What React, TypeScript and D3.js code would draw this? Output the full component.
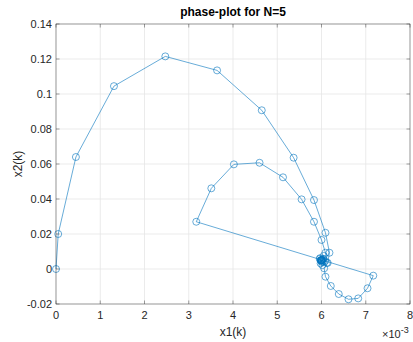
import React from "react";
import * as d3 from "d3";

const x1Values = [
  0, 0.05, 0.45, 1.31, 2.47, 3.64, 4.65, 5.37, 5.83, 6.09, 6.18, 6.14, 6.06, 6.09, 6.21, 6.39, 6.61, 6.83, 7.04, 7.17,
  3.17, 3.51, 4.02, 4.6, 5.13, 5.55, 5.83, 6.0, 6.09, 6.12, 6.02, 5.96, 6.05, 6.08, 5.98, 5.97, 6.04, 6.01, 5.99, 6.02, 6.0, 5.98, 6.01, 6.0, 5.99, 6.0,
];
const x2Values = [
  0, 0.02, 0.064, 0.1045, 0.1215, 0.1135, 0.0907, 0.0636, 0.0394, 0.0207, 0.0093, 0.0035, 0.0004, -0.0044, -0.0097, -0.0143, -0.0173, -0.0168, -0.011, -0.0038,
  0.027, 0.0461, 0.0598, 0.0607, 0.0524, 0.0398, 0.027, 0.0166, 0.0093, 0.0035, 0.0022, 0.0058, 0.0075, 0.0045, 0.0032, 0.0062, 0.0058, 0.004, 0.005, 0.0053, 0.0046, 0.0048, 0.0052, 0.0049, 0.0051, 0.005,
];
const xTicks = [0, 1, 2, 3, 4, 5, 6, 7, 8];
const xTickLabels = ["0", "1", "2", "3", "4", "5", "6", "7", "8"];
const yTicks = [-0.02, 0, 0.02, 0.04, 0.06, 0.08, 0.1, 0.12, 0.14];
const yTickLabels = ["-0.02", "0", "0.02", "0.04", "0.06", "0.08", "0.1", "0.12", "0.14"];

const W = 413;
const H = 342;
const L = 56, R = 410, T = 24, B = 304;
const blue = "#0072BD";
const axisCol = "#262626";
const font = "'Liberation Sans', Arial, sans-serif";

export default function App() {
  const x = d3.scaleLinear().domain([0, 8]).range([L, R]);
  const y = d3.scaleLinear().domain([-0.02, 0.14]).range([B, T]);
  const pts: [number, number][] = x1Values.map((v, i) => [x(v), y(x2Values[i])]);
  const line = d3.line<[number, number]>().x((d) => d[0]).y((d) => d[1]);
  return (
    <svg width={W} height={H} style={{ position: "absolute", left: 0, top: 0, background: "#fff" }} fontFamily={font}>
      <rect x={0} y={0} width={W} height={H} fill="#fff" />
      <rect x={L} y={T} width={R - L} height={B - T} fill="#fff" />
      {xTicks.map((t) => (
        <line key={"gx" + t} x1={x(t)} x2={x(t)} y1={T} y2={B} stroke="#e6e6e6" strokeWidth={0.8} />
      ))}
      {yTicks.map((t) => (
        <line key={"gy" + t} x1={L} x2={R} y1={y(t)} y2={y(t)} stroke="#e6e6e6" strokeWidth={0.8} />
      ))}
      <path d={line(pts) || ""} fill="none" stroke={blue} strokeWidth={0.7} opacity={0.85} />
      {pts.map((p, i) => (
        <circle key={"c" + i} cx={p[0]} cy={p[1]} r={3.5} fill="none" stroke={blue} strokeWidth={0.7} opacity={0.85} />
      ))}
      <rect x={L} y={T} width={R - L} height={B - T} fill="none" stroke={axisCol} strokeWidth={0.6} opacity={0.7} />
      {xTicks.map((t, i) => (
        <g key={"tx" + t}>
          <line x1={x(t)} x2={x(t)} y1={B} y2={B - 3.5} stroke={axisCol} strokeWidth={0.6} opacity={0.7} />
          <line x1={x(t)} x2={x(t)} y1={T} y2={T + 3.5} stroke={axisCol} strokeWidth={0.6} opacity={0.7} />
          <text x={x(t)} y={B + 15} textAnchor="middle" fontSize={11} fill={axisCol}>{xTickLabels[i]}</text>
        </g>
      ))}
      {yTicks.map((t, i) => (
        <g key={"ty" + t}>
          <line x1={L} x2={L + 3.5} y1={y(t)} y2={y(t)} stroke={axisCol} strokeWidth={0.6} opacity={0.7} />
          <line x1={R} x2={R - 3.5} y1={y(t)} y2={y(t)} stroke={axisCol} strokeWidth={0.6} opacity={0.7} />
          <text x={L - 4} y={y(t) + 4} textAnchor="end" fontSize={11} fill={axisCol}>{yTickLabels[i]}</text>
        </g>
      ))}
      <text x={(L + R) / 2} y={16} textAnchor="middle" fontSize={12} fontWeight="bold" fill="#000">phase-plot for N=5</text>
      <text x={(L + R) / 2} y={336} textAnchor="middle" fontSize={12} fill={axisCol}>x1(k)</text>
      <text transform={`translate(22,${(T + B) / 2}) rotate(-90)`} textAnchor="middle" fontSize={12} fill={axisCol}>x2(k)</text>
      <text x={382} y={338} fontSize={11} fill={axisCol}>
        ×10<tspan dy={-5} fontSize={9}>-3</tspan>
      </text>
    </svg>
  );
}
